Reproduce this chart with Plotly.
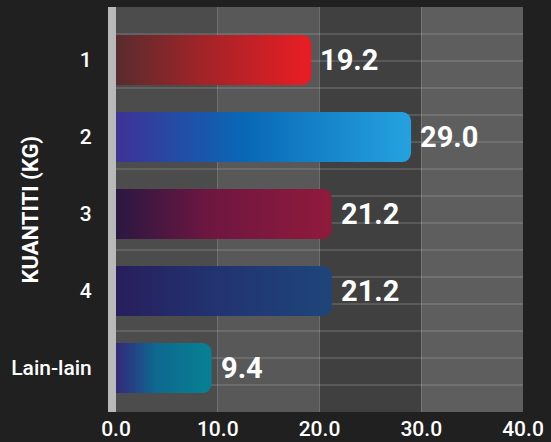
import plotly.graph_objects as go

categories = ["1", "2", "3", "4", "Lain-lain"]
values = [19.2, 29.0, 21.2, 21.2, 9.4]
labels = ["19.2", "29.0", "21.2", "21.2", "9.4"]
left_colors = ["rgb(88,44,46)", "rgb(62,50,150)", "rgb(42,24,66)", "rgb(40,30,92)", "rgb(52,40,122)"]
mid_colors = ["rgb(160,36,40)", "rgb(8,104,182)", "rgb(110,22,64)", "rgb(34,50,112)", "rgb(14,104,144)"]
right_colors = ["rgb(228,30,36)", "rgb(36,160,222)", "rgb(142,26,60)", "rgb(30,68,122)", "rgb(8,126,146)"]
x_ticks = [0, 10, 20, 30, 40]
y_title = "KUANTITI (KG)"

pos = list(range(len(categories)))
BW = 0.65
END = 0.8  # data units kept as solid colour for the rounded end

fig = go.Figure()

fig.add_trace(go.Bar(
    x=values, y=pos, orientation="h", width=BW,
    marker=dict(color=right_colors, line=dict(width=0), cornerradius=9),
    hoverinfo="skip", showlegend=False,
))

for i, v in enumerate(values):
    e = v - END
    fig.add_trace(go.Scatter(
        x=[0, e, e, 0, 0],
        y=[i - BW / 2, i - BW / 2, i + BW / 2, i + BW / 2, i - BW / 2],
        mode="none", fill="toself",
        fillgradient=dict(type="horizontal",
                          colorscale=[[0, left_colors[i]], [0.45, mid_colors[i]], [1, right_colors[i]]],
                          start=0, stop=e),
        hoverinfo="skip", showlegend=False,
    ))

annotations = []
for i, (v, t) in enumerate(zip(values, labels)):
    annotations.append(dict(
        x=v, y=i, xref="x", yref="y", text=t, showarrow=False,
        xanchor="left", yanchor="middle", xshift=7,
        font=dict(family="Roboto", size=29, color="white", weight="bold"),
    ))
annotations.append(dict(
    x=-0.2113, y=0.5, xref="paper", yref="paper", text=y_title, showarrow=False,
    textangle=-90, xanchor="center", yanchor="middle",
    font=dict(family="Roboto", size=22, color="white", weight="bold"),
))

shapes = []
col_colors = ["rgb(76,76,76)", "rgb(88,88,88)", "rgb(64,64,64)", "rgb(94,94,94)"]
for k in range(4):
    shapes.append(dict(type="rect", xref="x", yref="paper", x0=x_ticks[k], x1=x_ticks[k + 1],
                       y0=0, y1=1, fillcolor=col_colors[k], line=dict(width=0), layer="below"))
for k in range(1, 15):
    shapes.append(dict(type="line", xref="paper", yref="paper", x0=0, x1=1, y0=k / 15, y1=k / 15,
                       line=dict(color="rgba(210,210,210,0.35)", width=1), layer="below"))

fig.update_layout(
    width=551, height=442,
    margin=dict(l=116, r=28, t=7, b=30, autoexpand=False),
    paper_bgcolor="#202020",
    plot_bgcolor="rgb(80,80,80)",
    showlegend=False,
    shapes=shapes,
    annotations=annotations,
    font=dict(family="Roboto", color="white"),
    xaxis=dict(range=[0, 40], tickvals=x_ticks, tickformat=".1f",
               showgrid=True, gridcolor="rgba(200,200,200,0.28)", gridwidth=1,
               zeroline=False, showline=False, automargin=False,
               tickfont=dict(family="Roboto", size=21, color="white", weight=500),
               ticks="", ticklabelstandoff=2, layer="below traces"),
    yaxis=dict(range=[4.571, -0.688], tickvals=pos, ticktext=categories,
               showgrid=False, zeroline=False, automargin=False,
               showline=True, linecolor="rgb(185,185,185)", linewidth=8,
               tickfont=dict(family="Roboto", size=21, color="white", weight=500),
               ticks="", ticklabelstandoff=12),
)

fig.write_html("out.html")
